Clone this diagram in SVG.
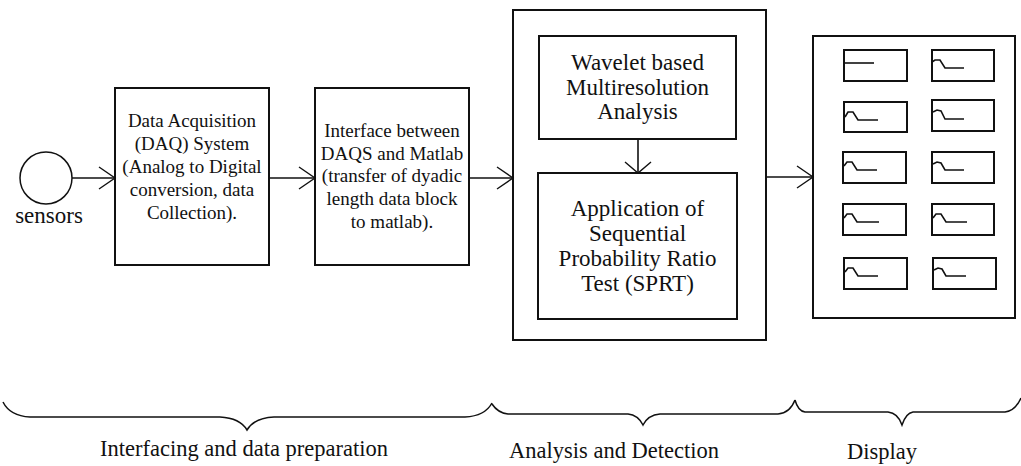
<svg xmlns="http://www.w3.org/2000/svg" width="1021" height="466" viewBox="0 0 1021 466">
<style>
.box{fill:#fff;stroke:#111;stroke-width:2}
.sbox{fill:none;stroke:#111;stroke-width:2}
.ln{fill:none;stroke:#111;stroke-width:1.6}
.wv{fill:none;stroke:#111;stroke-width:1.6}
.br{fill:none;stroke:#111;stroke-width:1.5}
text{font-family:"Liberation Serif","Times New Roman",serif;fill:#111;text-anchor:middle}
.t19{font-size:19px}
.t23{font-size:23px}
.lab{font-size:22.5px}
</style>
<defs>
<marker id="ah" markerUnits="userSpaceOnUse" markerWidth="20" markerHeight="24" refX="18" refY="12" orient="auto">
<path d="M2,1 L18,12 L2,23" fill="none" stroke="#111" stroke-width="1.4"/>
</marker>
<marker id="ahs" markerUnits="userSpaceOnUse" markerWidth="16" markerHeight="28" refX="13" refY="14" orient="auto">
<path d="M2,1 L13,14 L2,27" fill="none" stroke="#111" stroke-width="1.4"/>
</marker>
</defs>
<rect width="1021" height="466" fill="#fff"/>

<g id="sensors">
<circle cx="46" cy="178" r="26" fill="#fff" stroke="#111" stroke-width="1.5"/>
<text x="49" y="223" class="t23" style="font-size:23px">sensors</text>
</g>

<g id="daq">
<rect class="box" x="115" y="88" width="154" height="177"/>
<text class="t19" x="192" y="127">Data Acquisition</text>
<text class="t19" x="192" y="150">(DAQ) System</text>
<text class="t19" x="192" y="173">(Analog to Digital</text>
<text class="t19" x="192" y="196">conversion, data</text>
<text class="t19" x="192" y="219">Collection).</text>
</g>

<g id="interface">
<rect class="box" x="315" y="88" width="154" height="177"/>
<text class="t19" x="392" y="137">Interface between</text>
<text class="t19" x="392" y="160">DAQS and Matlab</text>
<text class="t19" x="392" y="182">(transfer of dyadic</text>
<text class="t19" x="392" y="205">length data block</text>
<text class="t19" x="392" y="228">to matlab).</text>
</g>

<g id="analysis">
<rect class="box" x="513" y="10" width="253" height="330"/>
</g>

<g id="wavelet">
<rect class="box" x="539" y="36" width="197" height="103"/>
<text class="t23" x="637.5" y="70">Wavelet based</text>
<text class="t23" x="637.5" y="95">Multiresolution</text>
<text class="t23" x="637.5" y="119">Analysis</text>
</g>

<g id="sprt">
<rect class="box" x="538" y="173" width="199" height="146"/>
<text class="t23" x="637.5" y="216">Application of</text>
<text class="t23" x="637.5" y="241">Sequential</text>
<text class="t23" x="637.5" y="266">Probability Ratio</text>
<text class="t23" x="637.5" y="291">Test (SPRT)</text>
</g>

<g id="display">
<rect class="box" x="813" y="36" width="202" height="282"/>
<rect class="sbox" x="844" y="50" width="63" height="31"/>
<path class="wv" d="M844,63 L874,63"/>
<rect class="sbox" x="932" y="50" width="62" height="31"/>
<path class="wv" d="M932,62 L935,60 L940,60 L945,68 L964,68"/>
<rect class="sbox" x="844" y="102" width="63" height="30"/>
<path class="wv" d="M845,117 L848,112 L853,112 L858,120 L878,120"/>
<rect class="sbox" x="932" y="100" width="62" height="31"/>
<path class="wv" d="M933,112 L937,110 L941,111 L945,119 L964,119"/>
<rect class="sbox" x="843" y="152" width="63" height="31"/>
<path class="wv" d="M844,166 L847,162 L852,162 L857,170 L877,170"/>
<rect class="sbox" x="932" y="152" width="62" height="31"/>
<path class="wv" d="M933,164 L937,162 L941,163 L945,170 L964,170"/>
<rect class="sbox" x="843" y="204" width="63" height="31"/>
<path class="wv" d="M844,218 L847,214 L852,214 L857,222 L879,222"/>
<rect class="sbox" x="932" y="204" width="62" height="31"/>
<path class="wv" d="M933,218 L936,214 L941,214 L946,222 L967,222"/>
<rect class="sbox" x="844" y="258" width="63" height="31"/>
<path class="wv" d="M845,272 L848,268 L853,268 L858,276 L878,276"/>
<rect class="sbox" x="933" y="258" width="63" height="31"/>
<path class="wv" d="M934,270 L938,268 L942,269 L946,276 L966,276"/>
</g>

<g id="connectors">
<line class="ln" x1="72" y1="178" x2="115" y2="178" marker-end="url(#ah)"/>
<line class="ln" x1="269" y1="178" x2="315" y2="178" marker-end="url(#ah)"/>
<line class="ln" x1="469" y1="178" x2="513" y2="178" marker-end="url(#ah)"/>
<line class="ln" x1="766" y1="177" x2="813" y2="177" marker-end="url(#ah)"/>
<line class="ln" x1="638" y1="139" x2="638" y2="173" marker-end="url(#ahs)"/>
</g>

<g id="braces">
<path class="br" d="M3,402 Q10,416 30,417 L220,417 Q240,418 247,430 Q254,418 274,417 L465,417 Q485,416 492,403"/>
<path class="br" d="M492,404 Q498,413 508,414 L628,414 Q638,415 643,425 Q648,415 660,414 L778,414 Q790,413 795,400"/>
<path class="br" d="M795,400 Q798,411 805,412 L888,412 Q898,413 902,425 Q906,413 913,412 L1005,412 Q1015,411 1021,398"/>
</g>

<g id="labels">
<text class="lab" x="244" y="456">Interfacing and data preparation</text>
<text class="lab" x="614" y="458">Analysis and Detection</text>
<text class="lab" x="882" y="459">Display</text>
</g>
</svg>
